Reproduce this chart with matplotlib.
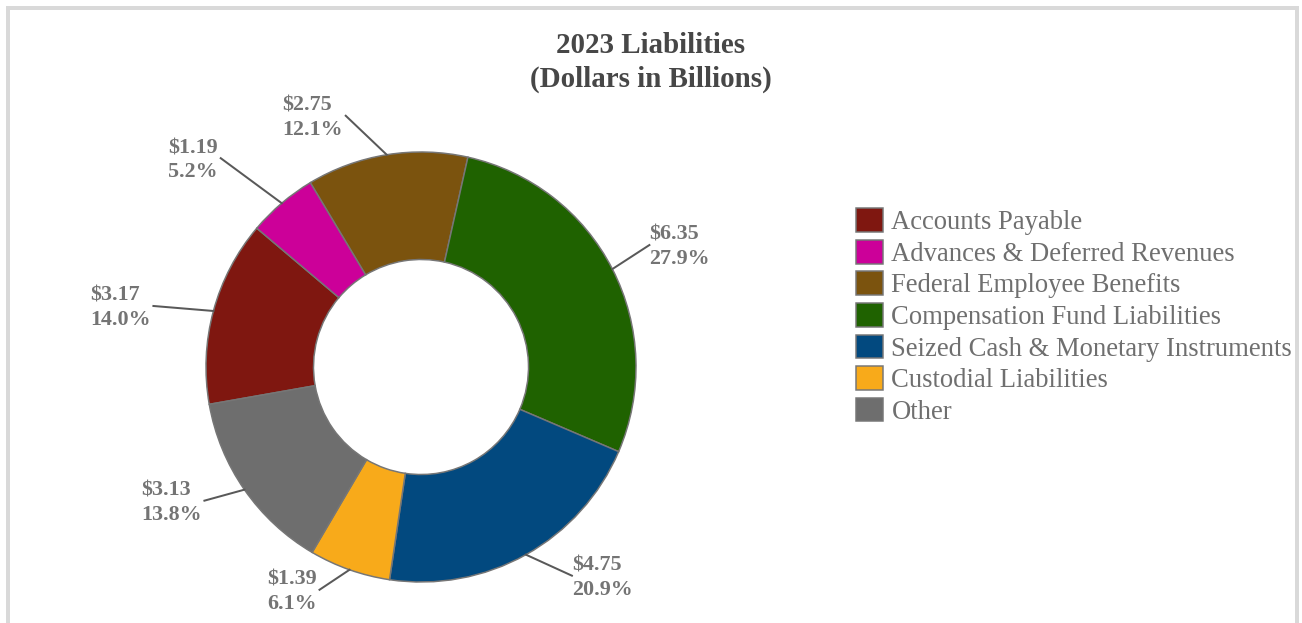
import matplotlib
matplotlib.use("Agg")
import matplotlib.pyplot as plt
import numpy as np
from matplotlib.patches import Rectangle

# liabilities by category, dollars in billions
categories = [
    "Accounts Payable",
    "Advances & Deferred Revenues",
    "Federal Employee Benefits",
    "Compensation Fund Liabilities",
    "Seized Cash & Monetary Instruments",
    "Custodial Liabilities",
    "Other",
]
amounts = [3.17, 1.19, 2.75, 6.35, 4.75, 1.39, 3.13]
shares = [14.0, 5.2, 12.1, 27.9, 20.9, 6.1, 13.8]  # percent of total, as reported
colors = ["#7F1710", "#CC0099", "#7B530E", "#1F6200", "#02497F", "#F8AA1A", "#6E6E6E"]

# leader line end relative to the wedge's outer edge, in pixels (x right, y up)
LEADER_OFFSETS = [(-60, 5), (-61, 45), (-41, 39), (37, 24), (46, -21), (-30, -20), (-40, -11)]

DPI = 72
W, H = 1302, 623
CX, CY, R = 421, 367, 215  # donut centre / radius in pixels

plt.rcParams["font.family"] = ["Liberation Serif", "DejaVu Serif"]

fig = plt.figure(figsize=(W / DPI, H / DPI), dpi=DPI)
fig.patch.set_facecolor("white")

# light grey chart frame (open at the bottom)
fig.patches.append(Rectangle((8 / W, -0.05), (1297 - 8) / W, 1.05 - 8 / H,
                             transform=fig.transFigure, fill=False,
                             edgecolor="#D9D9D9", linewidth=4))

ax = fig.add_axes([(CX - R) / W, (H - CY - R) / H, 2 * R / W, 2 * R / H])
wedges, _ = ax.pie(amounts, colors=colors, startangle=190, counterclock=False,
                   radius=1.0,
                   wedgeprops=dict(width=0.5, edgecolor="#767676", linewidth=1.5))
ax.set_xlim(-1, 1)
ax.set_ylim(-1, 1)
ax.set_aspect("equal")
ax.axis("off")

for w, val, pct, (dx, dy) in zip(wedges, amounts, shares, LEADER_OFFSETS):
    mid = np.deg2rad((w.theta1 + w.theta2) / 2)
    x0, y0 = np.cos(mid), np.sin(mid)
    x1, y1 = x0 + dx / R, y0 + dy / R
    ax.plot([x0, x1], [y0, y1], color="#595959", linewidth=2, clip_on=False)
    label = f"${val:.2f}\n{pct:.1f}%"
    if dx < 0:
        tx, ha = x1 - 3 / R, "right"
    else:
        tx, ha = x1, "left"
    ax.text(tx, y1 - 2 / R, label, ha=ha, va="center", multialignment="left",
            fontsize=22, fontweight="bold", color="#747474", linespacing=1.28)

fig.text(0.5, 1 - 62.5 / H, "2023 Liabilities\n(Dollars in Billions)", ha="center",
         va="center", fontsize=29, fontweight="bold", color="#474747", linespacing=1.32)

leg = fig.legend(wedges, categories, loc="center left",
                 bbox_to_anchor=(856 / W, 1 - 316.5 / H), frameon=False,
                 fontsize=26.6, borderpad=0, borderaxespad=0,
                 handlelength=1.0, handleheight=1.0, handletextpad=0.33,
                 labelspacing=0.17)
for t in leg.get_texts():
    t.set_color("#6F6F6F")

fig.savefig("out.png", dpi=DPI)
